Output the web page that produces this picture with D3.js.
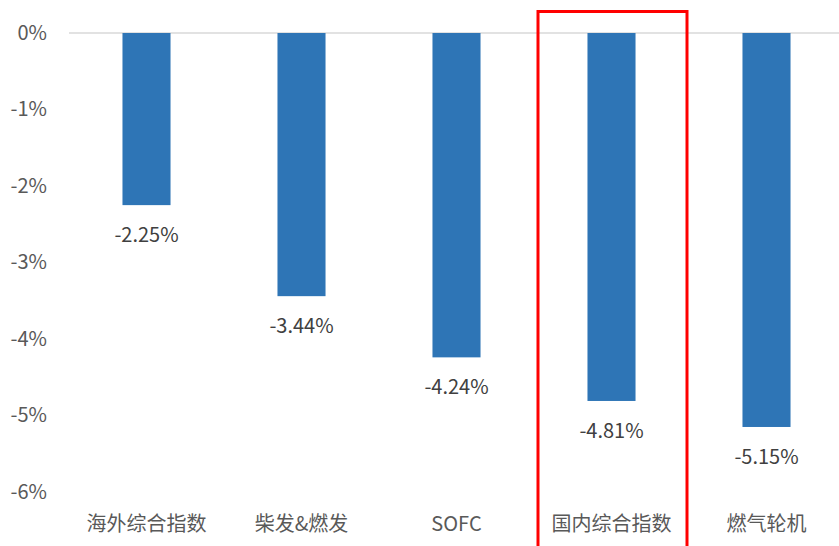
<!DOCTYPE html>
<html>
<head>
<meta charset="utf-8">
<script src="https://cdn.jsdelivr.net/npm/d3@7"></script>
<style>
  body { margin: 0; background: #fff; }
  svg text { font-family: "Noto Sans CJK SC", "Noto Sans", sans-serif; }
</style>
</head>
<body>
<div id="chart"></div>
<script>
// chart values
var categories = ["海外综合指数", "柴发&燃发", "SOFC", "国内综合指数", "燃气轮机"];
var values = [-2.25, -3.44, -4.24, -4.81, -5.15];
var yTicks = [0, -1, -2, -3, -4, -5, -6];
var highlight = "国内综合指数";

var width = 839, height = 546;

var svg = d3.select("#chart")
    .append("svg")
    .attr("width", width)
    .attr("height", height);

// X scale
var x = d3.scaleBand()
    .domain(categories)
    .range([69, 844])
    .paddingInner(0.69)
    .paddingOuter(0.345);

// Y scale
var y = d3.scaleLinear()
    .domain([-6, 0])
    .range([492, 33]);

// Y axis labels
var yAxis = svg.append("g")
    .attr("transform", "translate(47,0)")
    .call(d3.axisLeft(y).tickValues(yTicks).tickSize(0).tickPadding(0)
        .tickFormat(function (d) { return d + "%"; }));
yAxis.select(".domain").remove();
yAxis.selectAll("text")
    .attr("fill", "#595959")
    .style("font-size", "20px");

// zero line
svg.append("line")
    .attr("x1", 69)
    .attr("x2", width)
    .attr("y1", y(0))
    .attr("y2", y(0))
    .attr("stroke", "#d9d9d9")
    .attr("stroke-width", 1.5);

// bars
svg.selectAll("rect.bar")
    .data(values)
    .enter()
    .append("rect")
    .attr("class", "bar")
    .attr("x", function (d, i) { return x(categories[i]); })
    .attr("y", y(0))
    .attr("width", x.bandwidth())
    .attr("height", function (d) { return y(d) - y(0); })
    .attr("fill", "#2e75b6");

// value labels
svg.selectAll("text.val")
    .data(values)
    .enter()
    .append("text")
    .attr("class", "val")
    .attr("x", function (d, i) { return x(categories[i]) + x.bandwidth() / 2; })
    .attr("y", function (d) { return y(d) + 37; })
    .attr("text-anchor", "middle")
    .attr("fill", "#404040")
    .style("font-size", "20px")
    .text(function (d) { return d.toFixed(2) + "%"; });

// category labels
svg.selectAll("text.cat")
    .data(categories)
    .enter()
    .append("text")
    .attr("class", "cat")
    .attr("x", function (d) { return x(d) + x.bandwidth() / 2; })
    .attr("y", 531)
    .attr("text-anchor", "middle")
    .attr("fill", "#595959")
    .style("font-size", "20px")
    .text(function (d) { return d; });

// red highlight box
var step = x.step();
svg.append("rect")
    .attr("x", x(highlight) + x.bandwidth() / 2 - step / 2 + 4)
    .attr("y", 11.5)
    .attr("width", step - 6)
    .attr("height", 560)
    .attr("fill", "none")
    .attr("stroke", "#ff0000")
    .attr("stroke-width", 3);
</script>
</body>
</html>
